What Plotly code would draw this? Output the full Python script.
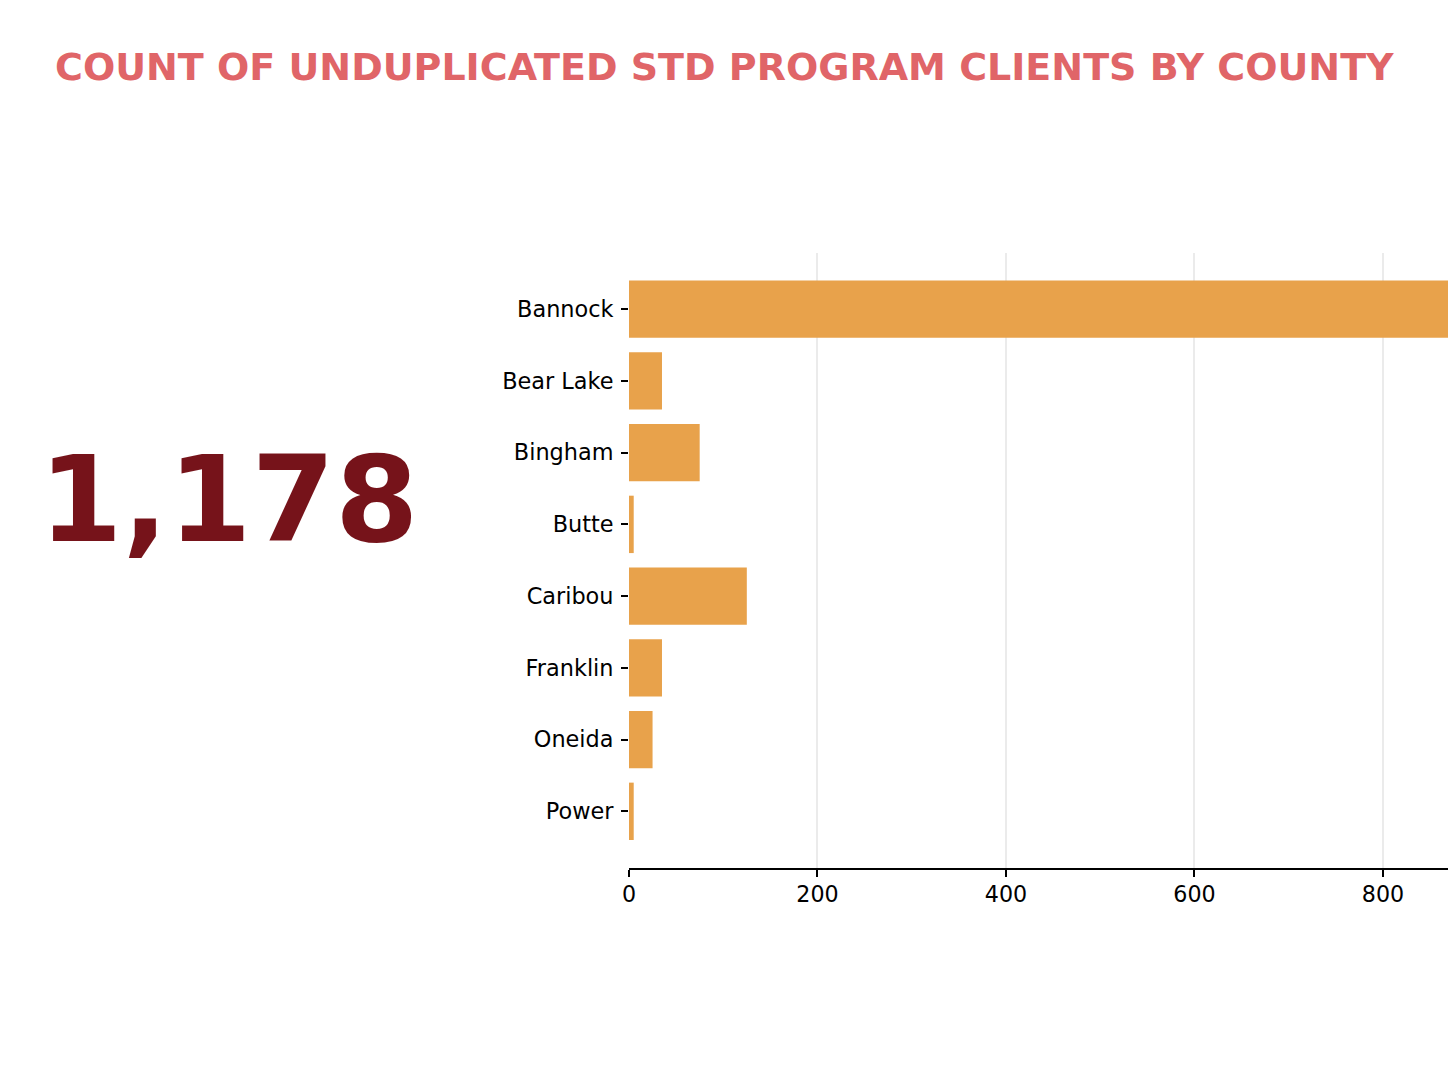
import plotly.graph_objects as go

counties = ["Bannock", "Bear Lake", "Bingham", "Butte", "Caribou", "Franklin", "Oneida", "Power"]
clients = [873, 35, 75, 5, 125, 35, 25, 5]
total_label = "1,178"
title_text = "COUNT OF UNDUPLICATED STD PROGRAM CLIENTS BY COUNTY"
x_ticks = [0, 200, 400, 600, 800]

W, H = 1448, 1086
FONT = "DejaVu Sans"

fig = go.Figure()
fig.add_trace(go.Bar(
    x=clients, y=counties, orientation="h",
    marker=dict(color="#E8A24B", line=dict(width=0)),
    width=0.8,
))

fig.update_layout(
    width=W, height=H,
    margin=dict(l=0, r=0, t=0, b=0, autoexpand=False),
    paper_bgcolor="white", plot_bgcolor="white",
    showlegend=False,
    font=dict(family=FONT, size=22, color="black"),
    bargap=0.2,
    xaxis=dict(
        domain=[629 / W, 1.0],
        range=[0, 869],
        tickvals=x_ticks,
        ticks="outside", ticklen=7, tickwidth=1.6, tickcolor="black",
        showline=True, linecolor="black", linewidth=1.6,
        showgrid=True, gridcolor="#ebebeb", gridwidth=1.5,
        zeroline=False, automargin=False,
        ticklabelstandoff=-1,
        tickfont=dict(family=FONT, size=22.2, color="black"),
    ),
    yaxis=dict(
        domain=[(H - 868) / H, (H - 252.5) / H],
        type="category",
        categoryorder="array", categoryarray=counties,
        range=[7.79, -0.79],
        ticks="outside", ticklen=7, tickwidth=1.6, tickcolor="black",
        showline=False, showgrid=False, zeroline=False, automargin=False,
        ticklabelstandoff=3,
        tickfont=dict(family=FONT, size=22.4, color="black"),
    ),
)

fig.add_annotation(
    x=0.5, y=1 - 67 / H, xref="paper", yref="paper",
    text="<b>" + title_text + "</b>", showarrow=False,
    xanchor="center", yanchor="middle",
    font=dict(family=FONT, size=38, color="#E06568"),
)

fig.add_annotation(
    x=229 / W, y=1 - 500 / H, xref="paper", yref="paper",
    text="<b>" + total_label + "</b>", showarrow=False,
    xanchor="center", yanchor="middle",
    font=dict(family=FONT, size=120, color="#76131A"),
)

fig.write_html("out.html")
